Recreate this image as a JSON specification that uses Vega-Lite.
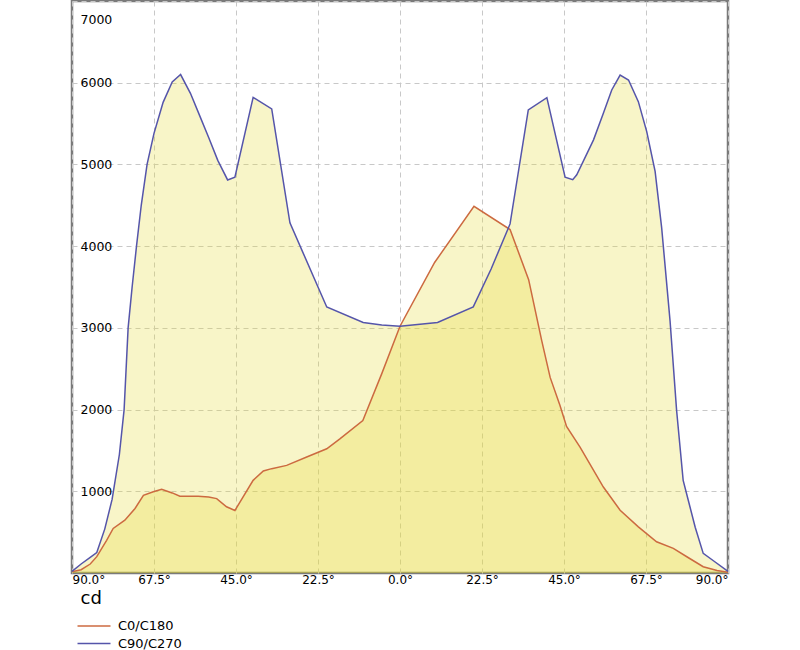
{
  "$schema": "https://vega.github.io/schema/vega-lite/v6.json",
  "autosize": {"type": "none"},
  "width": 656,
  "height": 572,
  "padding": {"left": 72, "top": 1, "right": 72, "bottom": 77},
  "background": "#ffffff",
  "config": {
    "view": {"stroke": "#7a7a7a", "strokeWidth": 2.5},
    "font": "DejaVu Sans"
  },
  "data": {
    "values": [
      {"s": "C0/C180", "a": -90, "v": 15}, {"s": "C0/C180", "a": -87.5, "v": 40}, {"s": "C0/C180", "a": -85, "v": 110},
      {"s": "C0/C180", "a": -83.2, "v": 200}, {"s": "C0/C180", "a": -80.5, "v": 400}, {"s": "C0/C180", "a": -78.7, "v": 545},
      {"s": "C0/C180", "a": -75.5, "v": 646}, {"s": "C0/C180", "a": -72.7, "v": 790}, {"s": "C0/C180", "a": -70.4, "v": 950},
      {"s": "C0/C180", "a": -67.7, "v": 995}, {"s": "C0/C180", "a": -65.4, "v": 1024}, {"s": "C0/C180", "a": -62.5, "v": 980},
      {"s": "C0/C180", "a": -60.4, "v": 940}, {"s": "C0/C180", "a": -55.4, "v": 940}, {"s": "C0/C180", "a": -52.5, "v": 930},
      {"s": "C0/C180", "a": -50.3, "v": 910}, {"s": "C0/C180", "a": -47.6, "v": 810}, {"s": "C0/C180", "a": -45.3, "v": 765},
      {"s": "C0/C180", "a": -40.3, "v": 1134}, {"s": "C0/C180", "a": -37.5, "v": 1248}, {"s": "C0/C180", "a": -35.2, "v": 1277},
      {"s": "C0/C180", "a": -31.1, "v": 1317}, {"s": "C0/C180", "a": -25.6, "v": 1419}, {"s": "C0/C180", "a": -20.1, "v": 1520},
      {"s": "C0/C180", "a": -16.5, "v": 1642}, {"s": "C0/C180", "a": -10.2, "v": 1866}, {"s": "C0/C180", "a": -5, "v": 2440},
      {"s": "C0/C180", "a": 0, "v": 3020}, {"s": "C0/C180", "a": 9.5, "v": 3800}, {"s": "C0/C180", "a": 20.3, "v": 4488},
      {"s": "C0/C180", "a": 30.2, "v": 4203}, {"s": "C0/C180", "a": 35.3, "v": 3590}, {"s": "C0/C180", "a": 38.9, "v": 2841},
      {"s": "C0/C180", "a": 41.2, "v": 2394}, {"s": "C0/C180", "a": 43.9, "v": 2049}, {"s": "C0/C180", "a": 45.7, "v": 1793},
      {"s": "C0/C180", "a": 49.4, "v": 1540}, {"s": "C0/C180", "a": 55.8, "v": 1052}, {"s": "C0/C180", "a": 60.4, "v": 768},
      {"s": "C0/C180", "a": 65.4, "v": 565}, {"s": "C0/C180", "a": 70.4, "v": 382}, {"s": "C0/C180", "a": 75, "v": 301},
      {"s": "C0/C180", "a": 78.7, "v": 199}, {"s": "C0/C180", "a": 83.2, "v": 77}, {"s": "C0/C180", "a": 87, "v": 30},
      {"s": "C0/C180", "a": 90, "v": 10},
      {"s": "C90/C270", "a": -90, "v": 20}, {"s": "C90/C270", "a": -87.5, "v": 110}, {"s": "C90/C270", "a": -85, "v": 190},
      {"s": "C90/C270", "a": -83.2, "v": 250}, {"s": "C90/C270", "a": -81, "v": 540}, {"s": "C90/C270", "a": -79, "v": 900},
      {"s": "C90/C270", "a": -77, "v": 1450}, {"s": "C90/C270", "a": -75.7, "v": 2000}, {"s": "C90/C270", "a": -74.6, "v": 3000},
      {"s": "C90/C270", "a": -73.5, "v": 3500}, {"s": "C90/C270", "a": -72.3, "v": 4000}, {"s": "C90/C270", "a": -71, "v": 4500},
      {"s": "C90/C270", "a": -69.4, "v": 5000}, {"s": "C90/C270", "a": -67.5, "v": 5380}, {"s": "C90/C270", "a": -65, "v": 5760},
      {"s": "C90/C270", "a": -62.5, "v": 6010}, {"s": "C90/C270", "a": -60.2, "v": 6100}, {"s": "C90/C270", "a": -57.5, "v": 5870},
      {"s": "C90/C270", "a": -55, "v": 5600}, {"s": "C90/C270", "a": -52.5, "v": 5330}, {"s": "C90/C270", "a": -50, "v": 5050},
      {"s": "C90/C270", "a": -47.3, "v": 4810}, {"s": "C90/C270", "a": -45.3, "v": 4845}, {"s": "C90/C270", "a": -40.3, "v": 5820},
      {"s": "C90/C270", "a": -35.2, "v": 5680}, {"s": "C90/C270", "a": -30.2, "v": 4285}, {"s": "C90/C270", "a": -20.1, "v": 3256},
      {"s": "C90/C270", "a": -10.1, "v": 3065}, {"s": "C90/C270", "a": -5, "v": 3035}, {"s": "C90/C270", "a": 0, "v": 3020},
      {"s": "C90/C270", "a": 10.3, "v": 3065}, {"s": "C90/C270", "a": 20.1, "v": 3256}, {"s": "C90/C270", "a": 25, "v": 3720},
      {"s": "C90/C270", "a": 30.2, "v": 4272}, {"s": "C90/C270", "a": 35.2, "v": 5667}, {"s": "C90/C270", "a": 40.3, "v": 5817},
      {"s": "C90/C270", "a": 45.3, "v": 4845}, {"s": "C90/C270", "a": 47.4, "v": 4813}, {"s": "C90/C270", "a": 48.5, "v": 4874},
      {"s": "C90/C270", "a": 53.1, "v": 5301}, {"s": "C90/C270", "a": 55.8, "v": 5626}, {"s": "C90/C270", "a": 58.1, "v": 5911},
      {"s": "C90/C270", "a": 60.4, "v": 6093}, {"s": "C90/C270", "a": 62.7, "v": 6033}, {"s": "C90/C270", "a": 65.4, "v": 5768},
      {"s": "C90/C270", "a": 67.7, "v": 5402}, {"s": "C90/C270", "a": 70, "v": 4915}, {"s": "C90/C270", "a": 71.8, "v": 4223},
      {"s": "C90/C270", "a": 74.1, "v": 3085}, {"s": "C90/C270", "a": 75.9, "v": 1988}, {"s": "C90/C270", "a": 77.7, "v": 1134},
      {"s": "C90/C270", "a": 79.1, "v": 890}, {"s": "C90/C270", "a": 81, "v": 560}, {"s": "C90/C270", "a": 83.2, "v": 240},
      {"s": "C90/C270", "a": 86, "v": 150}, {"s": "C90/C270", "a": 90, "v": 20}
    ]
  },
  "encoding": {
    "x": {
      "field": "a", "type": "quantitative",
      "scale": {"domain": [-90, 90], "nice": false, "zero": false},
      "axis": {
        "values": [-90, -67.5, -45, -22.5, 0, 22.5, 45, 67.5, 90],
        "labelExpr": "format(abs(datum.value), '.1f') + '°'",
        "labelFlush": true,
        "labelFontSize": 12,
        "labelColor": "#000000",
        "labelPadding": 1,
        "ticks": false,
        "domain": false,
        "grid": true,
        "gridColor": "#c8c8c8",
        "gridDash": [5, 4],
        "gridWidth": 1,
        "title": "cd",
        "titleFontSize": 18,
        "titleFontWeight": "normal",
        "titleColor": "#000000",
        "titleAnchor": "start",
        "titleAlign": "left",
        "titleBaseline": "alphabetic",
        "titleX": 8,
        "titleY": 30
      }
    },
    "y": {
      "field": "v", "type": "quantitative",
      "stack": null,
      "scale": {"domain": [0, 7000], "nice": false},
      "axis": {
        "values": [1000, 2000, 3000, 4000, 5000, 6000, 7000],
        "format": "d",
        "labelAlign": "left",
        "labelPadding": -8,
        "labelFontSize": 12.5,
        "labelColor": "#000000",
        "labelFlush": true,
        "labelFlushOffset": -12,
        "ticks": false,
        "domain": false,
        "grid": true,
        "gridColor": "#c8c8c8",
        "gridDash": [5, 4],
        "gridWidth": 1,
        "title": null
      }
    }
  },
  "layer": [
    {
      "mark": {"type": "area", "fill": "#E5DA34", "fillOpacity": 0.27},
      "encoding": {"detail": {"field": "s"}}
    },
    {
      "mark": {"type": "line", "strokeWidth": 1.5},
      "encoding": {
        "color": {
          "field": "s", "type": "nominal",
          "scale": {"domain": ["C0/C180", "C90/C270"], "range": ["#cc6a40", "#5555aa"]},
          "legend": {
            "title": null,
            "orient": "none",
            "legendX": 5,
            "legendY": 616,
            "padding": 0,
            "symbolType": "M-2,0H2",
            "symbolSize": 272,
            "symbolStrokeWidth": 1.5,
            "symbolOffset": 8,
            "labelOffset": 15,
            "labelFontSize": 13,
            "labelColor": "#000000",
            "rowPadding": 1.5
          }
        }
      }
    }
  ]
}
